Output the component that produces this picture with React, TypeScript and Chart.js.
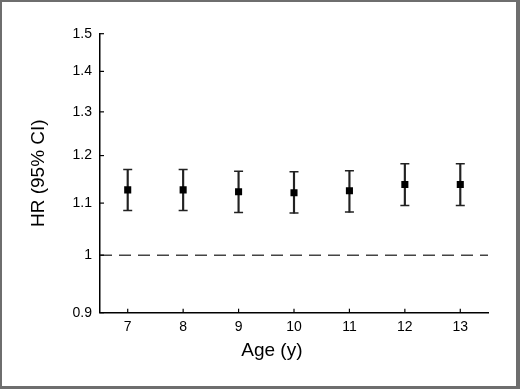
import React, { useEffect, useRef } from 'react';
import { Chart, registerables } from 'chart.js';

Chart.register(...registerables);

const AGES = ['7', '8', '9', '10', '11', '12', '13'];
const HR = [1.127, 1.127, 1.123, 1.121, 1.125, 1.138, 1.138];
const CI_LOWER = [1.085, 1.085, 1.081, 1.08, 1.082, 1.095, 1.095];
const CI_UPPER = [1.17, 1.17, 1.166, 1.165, 1.167, 1.182, 1.182];
const Y_TICKS = [0.9, 1, 1.1, 1.2, 1.3, 1.4, 1.5];
const REFERENCE_HR = 1;
const X_TITLE = 'Age (y)';
const Y_TITLE = 'HR (95% CI)';

const FONT = '"Liberation Sans", Arial, Helvetica, sans-serif';
const CANVAS_W = 514;
const CANVAS_H = 384;

const customPlugin = {
  id: 'customDecor',
  beforeDatasetsDraw(chart: any) {
    const { ctx, chartArea, scales } = chart;
    const y = scales.y;
    const py = y.getPixelForValue(REFERENCE_HR);
    ctx.save();
    ctx.strokeStyle = '#444';
    ctx.lineWidth = 1.5;
    ctx.setLineDash([12, 7]);
    ctx.beginPath();
    ctx.moveTo(chartArea.left, py);
    ctx.lineTo(chartArea.right, py);
    ctx.stroke();
    ctx.restore();
  },
  afterDraw(chart: any) {
    const { ctx, chartArea, scales } = chart;
    const x = scales.x;
    const y = scales.y;
    ctx.save();
    ctx.strokeStyle = '#000';
    ctx.lineWidth = 1.2;
    ctx.setLineDash([]);
    y.ticks.forEach((_t: any, i: number) => {
      const p = y.getPixelForTick(i);
      ctx.beginPath();
      ctx.moveTo(chartArea.left, p);
      ctx.lineTo(chartArea.left + 4, p);
      ctx.stroke();
    });
    x.ticks.forEach((_t: any, i: number) => {
      const p = x.getPixelForTick(i);
      ctx.beginPath();
      ctx.moveTo(p, chartArea.bottom);
      ctx.lineTo(p, chartArea.bottom - 4);
      ctx.stroke();
    });
    ctx.font = `19px ${FONT}`;
    ctx.fillStyle = '#000';
    ctx.textAlign = 'center';
    ctx.textBaseline = 'middle';
    ctx.fillText(X_TITLE, chartArea.left + chartArea.width * 0.443, chartArea.bottom + 38.5);
    ctx.restore();
  },
};

function ForestChart() {
  const ref = useRef<HTMLCanvasElement | null>(null);
  useEffect(() => {
    if (!ref.current) return;
    Chart.defaults.font.family = FONT;
    const chart = new Chart(ref.current, {
      type: 'bar',
      data: {
        labels: AGES,
        datasets: [
          {
            type: 'bar',
            label: 'CI',
            data: CI_LOWER.map((lo, i) => [lo, CI_UPPER[i]]) as any,
            backgroundColor: '#222',
            borderWidth: 0,
            barThickness: 1.5,
            order: 3,
          } as any,
          {
            type: 'line',
            label: 'upper',
            data: CI_UPPER,
            showLine: false,
            pointStyle: 'line',
            pointRadius: 4.5,
            borderColor: '#222',
            borderWidth: 1.5,
            order: 2,
          },
          {
            type: 'line',
            label: 'lower',
            data: CI_LOWER,
            showLine: false,
            pointStyle: 'line',
            pointRadius: 4.5,
            borderColor: '#222',
            borderWidth: 1.5,
            order: 2,
          },
          {
            type: 'line',
            label: 'HR',
            data: HR,
            showLine: false,
            pointStyle: 'rect',
            pointRadius: 5,
            backgroundColor: '#000',
            borderColor: '#000',
            borderWidth: 0,
            order: 1,
          },
        ],
      },
      options: {
        responsive: false,
        animation: false,
        devicePixelRatio: 1,
        layout: { padding: { top: 31.7, right: 28, left: 0, bottom: 0 } },
        plugins: { legend: { display: false }, tooltip: { enabled: false } },
        scales: {
          x: {
            type: 'category',
            offset: true,
            grid: { display: false, drawTicks: false },
            border: { display: true, color: '#000', width: 1.5 },
            ticks: { color: '#000', font: { size: 14 }, padding: 6, maxRotation: 0 },
            afterFit: (scale: any) => {
              scale.height = 73.3;
            },
          },
          y: {
            type: 'logarithmic',
            min: 0.9,
            max: 1.5,
            grid: { display: false, drawTicks: false },
            border: { display: true, color: '#000', width: 1.5 },
            ticks: {
              color: '#000',
              font: { size: 14 },
              padding: 8,
              autoSkip: false,
              callback: (v: any) => String(+v),
            },
            afterBuildTicks: (scale: any) => {
              scale.ticks = Y_TICKS.map((v) => ({ value: v }));
            },
            title: {
              display: true,
              text: Y_TITLE,
              color: '#000',
              font: { size: 19 },
              padding: { top: 25, bottom: 0 },
            },
            afterFit: (scale: any) => {
              scale.width = 98;
            },
          },
        },
      },
      plugins: [customPlugin],
    } as any);
    return () => chart.destroy();
  }, []);
  return <canvas ref={ref} width={CANVAS_W} height={CANVAS_H} style={{ display: 'block' }} />;
}

export default function App() {
  return (
    <div
      style={{
        position: 'fixed',
        left: 0,
        top: 0,
        width: 520,
        height: 389,
        boxSizing: 'border-box',
        borderStyle: 'solid',
        borderColor: '#6e6e6e',
        borderWidth: '2px 4px 3px 2px',
        background: '#fff',
      }}
    >
      <ForestChart />
    </div>
  );
}
